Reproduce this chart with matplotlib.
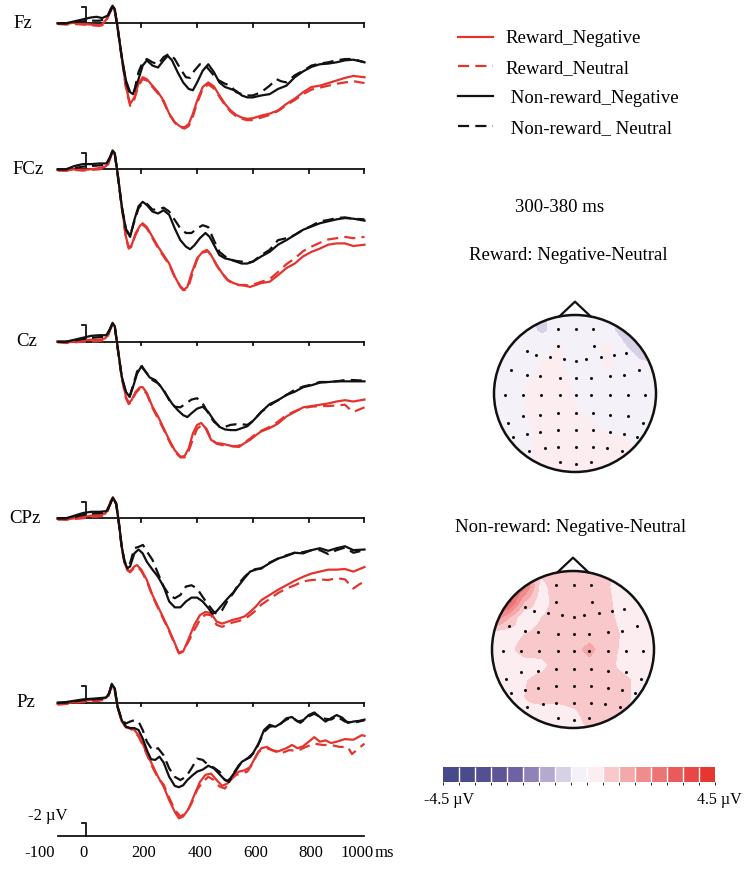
import numpy as np
import matplotlib
matplotlib.use('Agg')
import matplotlib.pyplot as plt
from matplotlib.colors import ListedColormap, BoundaryNorm
from matplotlib.patches import Circle
from matplotlib.cm import ScalarMappable

plt.rcParams['font.family'] = ['Liberation Serif', 'DejaVu Serif']

# ---------------- DATA (time ms, amplitude µV; negative plotted up) ----------------
ELECTRODES = ['Fz', 'FCz', 'Cz', 'CPz', 'Pz']
CONDITIONS = ['Reward_Negative', 'Reward_Neutral', ' Non-reward_Negative', ' Non-reward_ Neutral']

FZ_RN = [(-100,0.0),(-70,0.1),(-40,-0.1),(-10,0.1),(20,0.2),(50,0.3),(60,0.2),(75,-0.6),(88,-1.8),(97,-2.6),(105,-1.9),(115,0.6),(130,5.2),(145,9.8),(160,12.4),(175,11.4),(190,9.3),(205,8.3),(220,8.6),(240,9.6),(260,10.6),(280,11.9),(300,13.9),(320,15.2),(340,15.9),(355,16.0),(370,15.5),(385,13.9),(400,11.9),(420,9.8),(440,9.1),(460,9.7),(480,11.1),(500,12.4),(520,13.4),(540,14.1),(560,14.5),(580,14.7),(600,14.6),(630,14.2),(660,13.9),(690,13.4),(720,12.4),(750,11.6),(780,10.6),(810,9.8),(840,9.6),(870,9.2),(900,8.8),(930,8.4),(960,8.1),(1000,8.3)]
FZ_RU = [(-100,0.1),(-70,0.2),(-40,0.1),(-10,0.2),(20,0.3),(50,0.4),(60,0.3),(75,-0.4),(88,-1.7),(97,-2.5),(105,-1.8),(115,0.7),(130,5.4),(145,10.0),(160,12.7),(175,11.7),(190,9.6),(205,8.6),(220,8.8),(240,9.8),(260,10.8),(280,12.1),(300,14.0),(320,15.3),(340,16.0),(355,16.2),(370,15.8),(385,14.3),(400,12.3),(420,10.1),(440,9.4),(460,10.0),(480,11.3),(500,12.6),(520,13.6),(540,14.3),(560,14.7),(580,14.9),(600,14.9),(630,14.5),(660,14.1),(690,13.5),(720,12.6),(750,11.8),(780,10.9),(810,10.2),(840,9.9),(870,9.6),(900,9.3),(930,9.1),(960,8.9),(1000,9.2)]
FZ_NN = [(-100,0.0),(-70,0.0),(-40,-0.3),(-10,-0.6),(20,-0.9),(40,-1.0),(60,-0.8),(80,-1.2),(90,-2.2),(97,-2.7),(105,-2.2),(115,0.6),(130,5.2),(145,8.8),(160,10.6),(170,10.9),(190,8.6),(205,6.5),(220,5.7),(240,6.5),(260,6.8),(280,5.7),(295,5.0),(310,5.7),(330,7.5),(350,9.1),(370,10.1),(385,10.3),(400,9.1),(420,7.3),(440,6.3),(460,7.5),(480,9.1),(500,9.8),(520,10.1),(540,10.4),(560,11.1),(580,11.4),(600,11.4),(630,11.1),(660,10.9),(690,10.1),(720,9.6),(750,8.3),(780,7.4),(810,6.7),(840,6.3),(870,6.2),(900,6.0),(930,5.7),(960,5.6),(1000,6.0)]
FZ_NU = [(-100,0.0),(-70,0.0),(-40,-0.2),(-10,-0.3),(20,-0.4),(50,-0.4),(70,-0.6),(85,-1.5),(97,-2.5),(105,-2.1),(115,0.7),(130,5.3),(145,9.1),(160,10.9),(175,10.4),(190,7.5),(205,6.0),(220,5.5),(240,6.0),(260,6.3),(280,5.2),(300,4.7),(320,5.5),(340,7.0),(360,8.3),(375,8.4),(390,7.3),(410,6.3),(430,6.5),(450,7.5),(470,8.6),(500,9.3),(520,9.6),(540,10.6),(560,10.9),(580,11.1),(600,11.1),(630,10.6),(660,9.6),(685,8.6),(700,8.9),(720,9.1),(750,8.0),(780,7.3),(810,6.5),(840,6.2),(870,6.0),(900,5.7),(930,5.5),(960,5.5),(1000,6.0)]

FCZ_RN = [(-100,0.1),(-70,0.2),(-40,0.0),(-10,0.1),(20,0.0),(50,-0.2),(70,-0.4),(80,-0.7),(90,-2.0),(97,-2.7),(105,-2.2),(115,0.6),(130,5.7),(145,10.4),(155,12.0),(165,11.7),(180,9.8),(195,8.7),(205,8.3),(220,8.9),(240,10.4),(260,11.9),(280,13.2),(300,14.5),(320,16.5),(340,18.1),(350,18.6),(365,18.1),(380,16.0),(400,13.7),(420,12.7),(435,12.4),(450,13.2),(470,14.7),(490,16.0),(510,17.0),(530,17.5),(550,17.8),(570,17.9),(590,18.1),(610,17.8),(630,17.5),(660,17.3),(690,16.3),(720,15.2),(750,14.5),(780,13.4),(810,12.7),(840,12.2),(870,11.6),(900,11.4),(930,11.4),(960,11.8),(1000,11.6)]
FCZ_RU = [(-100,0.2),(-70,0.2),(-40,0.1),(-10,0.2),(20,0.1),(50,0.0),(70,-0.3),(80,-0.6),(90,-1.9),(97,-2.6),(105,-2.1),(115,0.7),(130,5.9),(145,10.6),(155,12.2),(165,11.9),(180,10.0),(195,8.9),(205,8.5),(220,9.1),(240,10.6),(260,12.1),(280,13.4),(300,14.7),(320,16.6),(340,18.0),(355,18.6),(370,17.9),(385,15.8),(400,13.9),(420,12.8),(440,12.6),(455,13.5),(470,14.8),(490,16.1),(510,17.1),(530,17.6),(550,17.8),(570,17.8),(590,17.9),(610,17.6),(630,17.3),(660,16.9),(690,15.8),(720,14.6),(750,13.7),(780,12.6),(810,11.9),(840,11.3),(870,10.8),(900,10.6),(930,10.4),(960,10.6),(1000,10.4)]
FCZ_NN = [(-100,0.0),(-70,0.0),(-40,-0.5),(-10,-0.8),(20,-0.8),(50,-0.9),(75,-0.9),(88,-1.9),(97,-2.9),(105,-2.5),(115,0.6),(130,5.7),(145,9.3),(160,10.4),(175,7.8),(190,5.7),(205,5.0),(220,5.5),(240,6.5),(260,6.8),(280,6.3),(300,7.0),(320,9.1),(340,10.9),(360,11.9),(375,12.3),(390,11.7),(410,10.6),(430,9.8),(445,10.4),(460,11.6),(480,13.2),(500,13.7),(520,13.9),(540,14.2),(560,14.5),(580,14.5),(600,14.2),(630,13.4),(660,12.7),(690,11.6),(720,10.9),(750,10.1),(780,9.3),(810,8.8),(840,8.3),(870,8.0),(900,7.7),(930,7.5),(960,7.6),(1000,7.9)]
FCZ_NU = [(-100,0.0),(-70,0.0),(-40,-0.2),(-10,-0.4),(20,-0.5),(50,-0.6),(75,-0.7),(88,-1.8),(97,-2.8),(105,-2.4),(115,0.7),(130,5.8),(145,9.2),(160,10.2),(175,8.0),(190,6.0),(205,5.2),(220,5.3),(240,6.2),(260,6.2),(280,5.9),(300,6.5),(320,7.8),(340,9.1),(360,9.8),(380,9.8),(400,9.1),(420,8.6),(440,8.9),(460,10.9),(480,12.7),(500,13.4),(520,13.9),(540,14.1),(560,14.2),(580,14.4),(600,14.2),(630,13.2),(660,12.4),(690,10.9),(720,10.6),(750,10.1),(780,9.3),(810,8.7),(840,8.0),(870,7.8),(900,7.5),(930,7.4),(960,7.6),(1000,7.7)]

CZ_RN = [(-100,0.0),(-70,0.1),(-40,0.0),(-10,-0.2),(20,-0.3),(50,-0.3),(70,-0.5),(80,-1.0),(90,-2.2),(97,-2.8),(105,-2.3),(115,0.8),(130,5.4),(145,8.5),(155,9.4),(165,9.0),(180,7.7),(195,7.0),(205,7.0),(220,7.9),(240,10.0),(260,11.5),(280,13.3),(300,15.1),(320,16.7),(340,17.7),(355,17.6),(370,16.4),(385,14.1),(400,12.8),(415,12.5),(430,13.3),(450,15.1),(470,15.6),(490,15.7),(510,15.9),(530,16.1),(550,16.2),(570,15.6),(590,15.1),(610,14.4),(630,13.8),(660,13.3),(690,12.6),(720,11.5),(750,10.8),(780,10.1),(810,9.9),(840,9.7),(870,9.5),(900,9.2),(930,9.0),(960,9.2),(1000,8.9)]
CZ_RU = [(-100,0.1),(-70,0.2),(-40,0.1),(-10,0.0),(20,0.0),(50,-0.1),(70,-0.3),(80,-0.8),(90,-2.0),(97,-2.7),(105,-2.2),(115,0.9),(130,5.6),(145,8.7),(155,9.6),(165,9.2),(180,7.9),(195,7.2),(205,7.2),(220,8.1),(240,10.2),(260,11.8),(280,13.5),(300,15.3),(320,16.9),(340,17.8),(355,17.8),(370,16.8),(385,15.0),(400,13.4),(420,12.7),(435,13.5),(450,15.0),(470,15.7),(490,15.9),(510,16.0),(530,16.1),(550,16.0),(570,15.5),(590,14.9),(610,14.2),(630,13.7),(660,13.1),(690,12.3),(720,11.3),(750,10.7),(780,10.2),(810,10.0),(840,9.9),(870,9.9),(900,9.8),(930,9.7),(945,10.3),(960,10.8),(1000,10.1)]
CZ_NN = [(-100,0.0),(-70,0.0),(-40,-0.3),(-10,-0.6),(20,-0.9),(50,-1.0),(75,-1.0),(88,-2.0),(97,-2.9),(105,-2.4),(115,0.8),(130,5.4),(145,7.7),(158,8.5),(170,7.0),(185,4.9),(200,3.8),(215,4.6),(230,5.5),(250,5.9),(270,6.9),(290,8.2),(310,9.5),(330,10.5),(350,11.3),(365,11.6),(380,11.0),(400,10.3),(420,10.0),(440,10.8),(460,12.1),(480,13.1),(500,13.5),(520,13.6),(540,13.6),(560,13.3),(580,13.0),(600,12.2),(630,10.8),(660,9.6),(690,9.0),(720,8.2),(750,7.7),(780,7.0),(810,6.7),(840,6.3),(870,6.2),(900,6.1),(930,6.1),(960,6.1),(1000,6.1)]
CZ_NU = [(-100,0.0),(-70,0.0),(-40,-0.2),(-10,-0.4),(20,-0.6),(50,-0.7),(75,-0.8),(88,-1.9),(97,-2.8),(105,-2.3),(115,0.9),(130,5.5),(145,7.8),(158,8.4),(170,6.8),(185,4.6),(200,3.6),(215,4.6),(240,5.9),(260,6.4),(280,7.4),(300,9.0),(320,10.0),(340,10.1),(360,9.5),(380,8.9),(400,8.7),(420,9.5),(440,11.0),(460,12.3),(480,13.0),(500,13.1),(520,12.8),(540,12.7),(560,12.7),(580,12.8),(600,12.2),(630,10.8),(660,9.8),(690,9.0),(720,8.2),(750,7.4),(780,6.9),(810,6.6),(840,6.2),(870,6.2),(900,6.1),(930,5.9),(960,5.9),(1000,6.0)]

CPZ_RN = [(-100,0.1),(-70,0.2),(-40,0.0),(-10,-0.2),(20,-0.4),(50,-0.5),(70,-0.7),(80,-1.3),(90,-2.6),(98,-3.2),(110,-2.3),(120,0.8),(130,4.4),(140,6.9),(150,7.9),(160,8.2),(175,7.4),(185,7.2),(200,7.9),(220,9.5),(240,11.8),(260,13.6),(280,15.4),(300,17.2),(320,19.2),(335,20.8),(350,20.5),(370,18.5),(390,16.4),(410,14.9),(430,14.4),(450,14.6),(470,15.9),(490,16.2),(510,15.9),(530,15.6),(550,15.4),(570,15.1),(590,14.4),(610,13.6),(630,12.6),(660,11.8),(690,11.0),(720,10.3),(750,9.6),(780,9.0),(810,8.5),(840,8.2),(870,7.9),(900,7.9),(930,7.8),(960,8.2),(1000,7.5)]
CPZ_RU = [(-100,0.2),(-70,0.2),(-40,0.1),(-10,0.0),(20,-0.2),(50,-0.3),(70,-0.5),(80,-1.1),(90,-2.5),(98,-3.1),(110,-2.2),(120,0.9),(130,4.6),(140,7.0),(150,8.0),(160,8.3),(175,7.6),(185,7.4),(200,8.1),(220,9.7),(240,12.0),(260,13.8),(280,15.6),(300,17.4),(320,19.4),(335,20.7),(350,20.4),(370,18.9),(390,17.2),(410,15.6),(430,14.8),(450,14.9),(470,16.4),(490,16.7),(510,16.3),(530,16.0),(550,15.8),(570,15.5),(590,14.9),(610,14.2),(630,13.3),(660,12.4),(690,11.5),(720,10.8),(750,10.3),(780,9.7),(810,9.5),(840,9.4),(870,9.5),(900,9.2),(930,9.4),(960,10.8),(980,10.2),(1000,9.7)]
CPZ_NN = [(-100,0.0),(-70,0.0),(-40,-0.4),(-10,-0.8),(20,-1.0),(50,-1.0),(75,-1.1),(88,-2.2),(98,-3.2),(110,-2.3),(120,0.8),(130,4.4),(140,6.7),(150,7.7),(160,7.4),(175,5.4),(190,4.8),(205,5.4),(220,6.7),(240,7.9),(260,9.0),(280,10.5),(300,12.8),(320,13.7),(340,13.7),(360,12.8),(380,12.2),(400,12.2),(420,12.8),(440,13.8),(455,14.7),(470,14.3),(490,13.3),(510,12.3),(530,11.4),(550,10.3),(570,9.2),(590,8.2),(610,7.9),(630,7.7),(660,6.9),(690,6.2),(720,5.8),(750,5.3),(780,5.4),(810,4.9),(840,4.6),(870,5.0),(900,4.6),(930,4.3),(960,4.9),(1000,4.8)]
CPZ_NU = [(-100,0.0),(-70,0.0),(-40,-0.2),(-10,-0.5),(20,-0.7),(50,-0.8),(75,-0.9),(88,-2.1),(98,-3.1),(110,-2.2),(120,0.9),(130,4.5),(140,6.6),(150,7.4),(160,6.9),(175,4.6),(190,4.4),(206,4.1),(220,5.1),(240,6.4),(260,8.5),(280,10.5),(300,11.8),(320,12.3),(340,11.8),(360,10.5),(380,10.3),(400,10.8),(420,12.1),(440,13.3),(460,14.4),(470,14.7),(490,14.1),(510,12.6),(530,11.5),(550,10.0),(570,9.0),(590,8.2),(610,7.8),(630,7.7),(660,6.8),(690,6.2),(720,5.7),(750,5.3),(780,5.2),(810,4.9),(840,4.9),(870,5.5),(900,4.9),(930,4.5),(960,5.3),(1000,4.9)]

PZ_RN = [(-100,0.2),(-70,0.1),(-40,-0.1),(-10,-0.3),(20,-0.4),(50,-0.5),(70,-0.7),(82,-1.2),(94,-2.8),(105,-1.9),(115,0.6),(130,2.9),(145,3.7),(160,3.9),(175,4.2),(190,5.0),(205,6.3),(220,7.8),(240,9.6),(260,11.4),(280,12.9),(300,15.0),(320,16.8),(335,17.8),(350,17.5),(370,16.3),(390,14.2),(410,12.2),(430,11.1),(450,10.9),(470,11.9),(490,12.8),(510,12.4),(530,11.1),(550,10.6),(570,10.4),(590,9.9),(610,8.3),(630,7.0),(650,6.8),(670,7.3),(690,7.5),(720,7.0),(740,6.5),(760,7.0),(780,6.7),(800,6.0),(820,5.3),(840,6.0),(860,5.8),(880,6.2),(900,6.0),(930,5.6),(960,5.7),(990,5.0),(1000,5.1)]
PZ_RU = [(-100,0.3),(-70,0.2),(-40,0.0),(-10,-0.1),(20,-0.2),(50,-0.3),(70,-0.5),(82,-1.0),(94,-2.6),(105,-1.8),(115,0.7),(130,3.0),(145,3.8),(160,4.0),(175,4.4),(190,5.2),(205,6.5),(220,8.0),(240,9.9),(260,11.6),(280,12.6),(300,14.6),(320,16.5),(340,17.5),(360,17.0),(380,15.5),(400,13.4),(420,12.2),(440,11.4),(460,11.9),(480,12.9),(500,13.2),(520,11.9),(540,11.1),(560,10.9),(580,10.6),(600,9.3),(620,7.5),(650,7.0),(680,7.5),(700,7.8),(730,7.3),(760,7.4),(790,6.8),(820,6.3),(850,6.5),(880,6.5),(910,6.8),(940,6.8),(955,7.9),(980,7.0),(1000,6.3)]
PZ_NN = [(-100,0.0),(-70,-0.1),(-40,-0.3),(-10,-0.5),(20,-0.6),(50,-0.7),(75,-0.8),(85,-1.5),(94,-2.9),(105,-2.2),(115,0.6),(130,2.7),(145,3.7),(160,3.9),(175,3.9),(190,4.2),(205,5.5),(220,7.3),(235,8.7),(250,8.8),(265,8.3),(280,9.2),(300,11.4),(320,12.8),(335,13.0),(350,12.7),(365,11.9),(380,11.3),(400,10.6),(420,10.3),(440,9.7),(460,10.1),(480,11.0),(500,11.9),(510,12.0),(520,11.6),(540,10.4),(560,9.1),(580,8.6),(600,7.8),(620,6.3),(640,4.2),(660,3.4),(680,3.7),(700,3.2),(720,2.4),(740,2.2),(760,2.9),(780,2.7),(800,1.9),(820,1.5),(840,2.2),(860,2.9),(880,2.4),(900,1.9),(920,2.3),(940,3.1),(960,2.9),(980,2.8),(1000,2.6)]
PZ_NU = [(-100,0.0),(-70,0.0),(-40,-0.2),(-10,-0.4),(20,-0.5),(50,-0.6),(75,-0.7),(85,-1.4),(94,-2.8),(105,-2.1),(115,0.7),(130,2.6),(145,3.2),(160,2.9),(175,2.7),(190,2.9),(205,4.2),(220,6.0),(240,7.3),(260,7.0),(280,8.1),(300,10.1),(320,11.4),(340,11.9),(360,11.4),(380,10.1),(400,8.6),(420,8.8),(440,9.6),(460,10.0),(480,10.6),(500,11.9),(515,12.2),(530,10.9),(550,9.6),(570,8.8),(590,8.4),(610,7.3),(640,4.5),(660,3.7),(690,3.5),(720,2.6),(740,2.3),(770,3.1),(800,2.1),(820,1.7),(850,2.4),(880,2.6),(900,2.1),(930,2.9),(960,3.1),(1000,2.7)]

X_TICKS = [200, 400, 600, 800, 1000]
X_TICKLABELS = ['-100', '0', '200', '400', '600', '800', '1000']
SCALE_LABEL = '-2 µV'
WINDOW_LABEL = '300-380 ms'
MAP_TITLES = ['Reward: Negative-Neutral', 'Non-reward: Negative-Neutral']
CBAR_RANGE = (-4.5, 4.5)
CBAR_COLORS = ['#474a8a', '#4b4a8c', '#544f93', '#5e5598', '#6e62a2', '#8e82b8', '#b4aad0', '#d7d0e6',
               '#f4f2f8', '#fcedf0', '#f8c8cb', '#f5a8aa', '#f18c8c', '#ed7475', '#e95b5b', '#e74745', '#e5372f']

# electrode montage (normalized head coordinates)
ELEC_X = [-0.21, 0.01, 0.22, -0.21, 0.24,
          -0.59, -0.48, -0.31, -0.14, 0.01, 0.14, 0.32, 0.48, 0.63,
          -0.79, -0.59, -0.43, -0.19, 0.01, 0.20, 0.43, 0.60, 0.79,
          -0.86, -0.64, -0.42, -0.19, 0.01, 0.20, 0.43, 0.65, 0.86,
          -0.83, -0.64, -0.43, -0.21, 0.01, 0.22, 0.43, 0.65, 0.84,
          -0.76, -0.59, -0.43, -0.21, 0.01, 0.22, 0.43, 0.60, 0.77,
          -0.57, -0.37, -0.21, 0.01, 0.22, 0.39, 0.58,
          -0.19, 0.01, 0.20]
ELEC_Y = [0.82, 0.82, 0.82, 0.61, 0.61,
          0.54, 0.49, 0.46, 0.44, 0.42, 0.44, 0.46, 0.49, 0.52,
          0.30, 0.24, 0.22, 0.20, 0.20, 0.20, 0.22, 0.24, 0.30,
          -0.02, -0.02, -0.02, -0.02, -0.02, -0.02, -0.02, -0.02, -0.02,
          -0.37, -0.29, -0.27, -0.25, -0.25, -0.25, -0.27, -0.29, -0.37,
          -0.56, -0.51, -0.49, -0.47, -0.47, -0.47, -0.49, -0.51, -0.56,
          -0.73, -0.70, -0.68, -0.68, -0.68, -0.70, -0.73,
          -0.87, -0.90, -0.87]

# difference maps (µV) on an 11x11 grid, rows from front (top) to back, columns left to right
MAP_REWARD = [
    [0.0, 0.0, -0.3, -0.35, 0.0, 0.0, 0.0, 0.0, -0.5, -0.75, -0.75],
    [0.0, 0.0, -0.1, -0.35, 0.0, -0.05, 0.0, -0.1, -0.5, -0.75, -0.75],
    [0.0, -0.05, -0.05, 0.1, 0.35, 0.0, 0.1, 0.4, -0.2, -0.6, -0.7],
    [0.0, -0.1, 0.0, 0.3, 0.35, 0.0, 0.05, 0.4, 0.1, -0.2, -0.3],
    [-0.1, -0.1, 0.2, 0.4, 0.4, 0.2, 0.0, 0.1, 0.0, -0.1, -0.1],
    [-0.1, -0.1, 0.3, 0.45, 0.4, 0.25, 0.0, 0.0, -0.05, -0.1, -0.1],
    [-0.1, -0.15, 0.3, 0.45, 0.4, 0.3, 0.15, 0.05, 0.0, -0.05, -0.1],
    [-0.1, -0.15, 0.2, 0.4, 0.4, 0.4, 0.3, 0.2, 0.1, 0.0, 0.0],
    [0.0, -0.1, 0.2, 0.4, 0.4, 0.4, 0.4, 0.35, 0.35, 0.1, 0.0],
    [0.0, 0.0, 0.2, 0.4, 0.4, 0.4, 0.4, 0.4, 0.35, 0.1, 0.0],
    [0.0, 0.0, 0.2, 0.4, 0.4, 0.4, 0.4, 0.4, 0.35, 0.1, 0.0],
]
MAP_NONREWARD = [
    [0.6, 1.6, 0.9, 1.0, 1.1, 1.1, 1.1, 1.0, 0.6, 0.5, 0.5],
    [3.5, 3.5, 2.6, 0.6, 1.1, 1.1, 1.1, 0.9, 0.5, 0.5, 0.5],
    [3.5, 3.3, 1.3, 0.5, 1.05, 1.1, 1.1, 1.0, 0.5, 0.5, 0.5],
    [2.5, 1.4, 0.3, 0.8, 1.05, 1.1, 1.1, 1.05, 0.6, 0.5, 0.5],
    [0.5, 0.5, 0.8, 1.0, 1.1, 1.15, 1.15, 1.1, 0.75, 0.5, 0.5],
    [0.5, 0.6, 1.1, 1.1, 1.1, 1.2, 1.45, 1.1, 0.7, 0.5, 0.5],
    [0.5, 0.5, 0.5, 0.6, 1.1, 1.15, 1.2, 1.1, 0.6, 0.5, 0.5],
    [0.5, 0.5, 0.75, 1.05, 1.1, 1.1, 1.1, 1.1, 1.05, 0.6, 0.5],
    [0.5, 0.5, 0.8, 1.05, 1.05, 1.1, 1.1, 1.1, 1.05, 0.6, 0.5],
    [0.5, 0.5, 0.7, 0.55, 0.5, 0.7, 1.05, 1.05, 0.9, 0.5, 0.5],
    [0.5, 0.5, 0.5, 0.5, 0.5, 0.5, 0.9, 0.9, 0.5, 0.5, 0.5],
]

# ---------------- LAYOUT ----------------
W, H = 750, 869
fig = plt.figure(figsize=(W / 100, H / 100), dpi=100)
fig.patch.set_facecolor('white')


def fx(px):
    return px / W


def fy(py):
    return 1 - py / H


RED = '#e3342f'
BLACK = '#111111'
LW = 1.6
DASH = (5, 2.8)
X0 = 85.5          # px of t = 0
PX_MS = 0.279      # px per ms
PX_UV = 6.5        # px per µV
XLIM = (-115, 1015)
YLIM = (23, -4)    # inverted: negative up
BASELINES = [23.3, 169.3, 341.7, 518.3, 702.7]
LABEL_X = [22.5, 28, 26.5, 25, 25.5]


def erp_axes(baseline):
    left = X0 + XLIM[0] * PX_MS
    right = X0 + XLIM[1] * PX_MS
    top = baseline + YLIM[1] * PX_UV
    bottom = baseline + YLIM[0] * PX_UV
    ax = fig.add_axes([fx(left), fy(bottom), (right - left) / W, (bottom - top) / H])
    ax.set_xlim(*XLIM)
    ax.set_ylim(*YLIM)
    ax.axis('off')
    ax.patch.set_alpha(0)
    return ax


series_sets = [
    (FZ_RN, FZ_RU, FZ_NN, FZ_NU),
    (FCZ_RN, FCZ_RU, FCZ_NN, FCZ_NU),
    (CZ_RN, CZ_RU, CZ_NN, CZ_NU),
    (CPZ_RN, CPZ_RU, CPZ_NN, CPZ_NU),
    (PZ_RN, PZ_RU, PZ_NN, PZ_NU),
]

handles = None
for name, base, lx, (rn, ru, nn, nu) in zip(ELECTRODES, BASELINES, LABEL_X, series_sets):
    ax = erp_axes(base)
    ax.plot([-100, 1000], [0, 0], color=BLACK, lw=1.3, clip_on=False)
    for t in X_TICKS:
        ax.plot([t, t], [0, 0.55], color=BLACK, lw=1.3, clip_on=False)
    ax.plot([-14, 0, 0], [-2.5, -2.5, 0], color=BLACK, lw=1.3, clip_on=False)
    t, v = zip(*ru)
    h_ru, = ax.plot(t, v, color=RED, lw=LW, dashes=DASH, clip_on=False)
    t, v = zip(*rn)
    h_rn, = ax.plot(t, v, color=RED, lw=LW, clip_on=False)
    t, v = zip(*nu)
    h_nu, = ax.plot(t, v, color=BLACK, lw=LW, dashes=DASH, clip_on=False)
    t, v = zip(*nn)
    h_nn, = ax.plot(t, v, color=BLACK, lw=LW, clip_on=False)
    handles = [h_rn, h_ru, h_nn, h_nu]
    fig.text(fx(lx), fy(base), name, ha='center', va='center', fontsize=13.5)

# bottom scale axis
axb = erp_axes(836)
axb.plot([-100, 1000], [0, 0], color=BLACK, lw=1.3, clip_on=False)
axb.plot([-14, 0, 0], [-2.0, -2.0, 0], color=BLACK, lw=1.3, clip_on=False)
axb.text(-135, -3.0, SCALE_LABEL, ha='center', va='center', fontsize=12)
lab_t = [-163, -8, 210, 412, 610, 806, 972]
for tt, lab in zip(lab_t, X_TICKLABELS):
    axb.text(tt, 2.6, lab, ha='center', va='center', fontsize=12)
axb.text(1070, 2.6, 'ms', ha='center', va='center', fontsize=12)

# legend
fig.legend(handles, CONDITIONS, loc='upper left', bbox_to_anchor=(fx(458), fy(30)),
           frameon=False, fontsize=13.5, handlelength=1.85, handletextpad=0.7,
           labelspacing=0.68, borderpad=0, borderaxespad=0)

fig.text(fx(560), fy(207), WINDOW_LABEL, ha='center', va='center', fontsize=13.5)
fig.text(fx(568), fy(256), MAP_TITLES[0], ha='center', va='center', fontsize=13.5)
fig.text(fx(571), fy(528), MAP_TITLES[1], ha='center', va='center', fontsize=13.5)

# topomaps
cmap = ListedColormap(CBAR_COLORS)
norm = BoundaryNorm(np.linspace(CBAR_RANGE[0], CBAR_RANGE[1], len(CBAR_COLORS) + 1), len(CBAR_COLORS))


def head(cx, cy, grid, rx=81, ry=78.5):
    xl = (-1.1, 1.1)
    yl = (-1.1, 1.25)
    left = cx + xl[0] * rx
    right = cx + xl[1] * rx
    top = cy - yl[1] * ry
    bottom = cy - yl[0] * ry
    ax = fig.add_axes([fx(left), fy(bottom), (right - left) / W, (bottom - top) / H])
    ax.axis('off')
    ax.patch.set_alpha(0)
    im = ax.imshow(np.array(grid), cmap=cmap, norm=norm, extent=[-1.1, 1.1, -1.1, 1.1],
                   origin='upper', interpolation='bilinear', aspect='auto')
    clip = Circle((0, 0), 1.0, transform=ax.transData)
    im.set_clip_path(clip)
    ax.add_patch(Circle((0, 0), 1.0, fill=False, ec=BLACK, lw=1.8, zorder=3))
    ax.plot([-0.19, 0, 0.19], [0.985, 1.17, 0.985], color=BLACK, lw=1.6, zorder=3)
    ax.plot(ELEC_X, ELEC_Y, ls='none', marker='o', ms=1.2, color=BLACK, zorder=4)
    ax.set_xlim(*xl)
    ax.set_ylim(*yl)
    return ax


head(575, 393.5, MAP_REWARD)
head(573, 649.5, MAP_NONREWARD)

# colorbar
cax = fig.add_axes([fx(443), fy(782), (715 - 443) / W, 15 / H])
cb = fig.colorbar(ScalarMappable(norm=norm, cmap=cmap), cax=cax, orientation='horizontal', drawedges=True)
cb.outline.set_visible(False)
cb.dividers.set_color('white')
cb.dividers.set_linewidth(1.0)
cb.set_ticks([])
fig.text(fx(449), fy(800), f'{CBAR_RANGE[0]} µV', ha='center', va='center', fontsize=11.5)
fig.text(fx(719), fy(800), f'{CBAR_RANGE[1]} µV', ha='center', va='center', fontsize=11.5)

fig.savefig('out.png', dpi=100, facecolor='white')
